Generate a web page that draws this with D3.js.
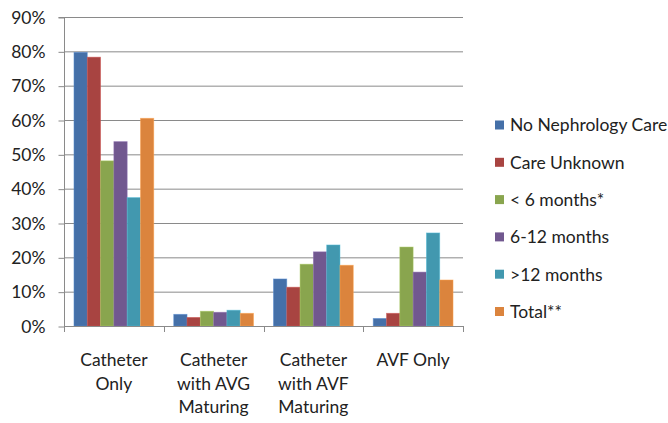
<!DOCTYPE html>
<html>
<head>
<meta charset="utf-8">
<script src="https://cdn.jsdelivr.net/npm/d3@7"></script>
<style>
  html, body { margin: 0; padding: 0; background: #ffffff; }
  svg { display: block; }
  text { font-family: Lato, "Open Sans", sans-serif; fill: #222; }
</style>
</head>
<body>
<svg id="chart" width="668" height="423"></svg>
<script>
// Access type by time under nephrology care (share of patients)
const categories = [
  ["Catheter", "Only"],
  ["Catheter", "with AVG", "Maturing"],
  ["Catheter", "with AVF", "Maturing"],
  ["AVF Only"]
];
const seriesNames = ["No Nephrology Care", "Care Unknown", "< 6 months*", "6-12 months", ">12 months", "Total**"];
const seriesColors = ["#4570a8", "#a84441", "#89a54e", "#71588f", "#4298af", "#db843d"];
const values = [
  [79.7, 3.4, 13.7, 2.2],   // No Nephrology Care
  [78.3, 2.5, 11.3, 3.7],   // Care Unknown
  [48.1, 4.3, 18.0, 23.0],  // < 6 months*
  [53.7, 4.0, 21.6, 15.7],  // 6-12 months
  [37.4, 4.6, 23.6, 27.1],  // >12 months
  [60.5, 3.7, 17.7, 13.4]   // Total**
];
const yTicks = [0, 10, 20, 30, 40, 50, 60, 70, 80, 90];

const FONT_SIZE = 17.5;
const svg = d3.select("#chart");
const plot = { left: 64, right: 463, top: 17, bottom: 326 };

const x0 = d3.scaleBand()
  .domain(d3.range(categories.length))
  .range([plot.left, plot.right])
  .paddingInner(0.2)
  .paddingOuter(0.1);
const xCat = d3.scaleBand()
  .domain(d3.range(categories.length))
  .range([plot.left, plot.right]);
const x1 = d3.scaleBand()
  .domain(d3.range(seriesNames.length))
  .range([0, x0.bandwidth()]);
const y = d3.scaleLinear().domain([0, 90]).range([plot.bottom, plot.top]);

// horizontal gridlines
svg.append("g")
  .selectAll("line")
  .data(yTicks.filter(d => d > 0))
  .join("line")
  .attr("x1", plot.left).attr("x2", plot.right)
  .attr("y1", d => y(d) + 0.5).attr("y2", d => y(d) + 0.5)
  .attr("stroke", "#8a8a8a").attr("stroke-width", 1);

// y axis
const yAxis = d3.axisLeft(y)
  .tickValues(yTicks)
  .tickFormat(d => d + "%")
  .tickSize(6)
  .tickPadding(13);
const gy = svg.append("g")
  .attr("transform", `translate(${plot.left + 0.5},0)`)
  .call(yAxis);
gy.select(".domain").attr("stroke", "#8a8a8a").attr("d", `M-6,${plot.top + 0.5}H0V${plot.bottom + 0.5}`);
gy.selectAll(".tick line").attr("stroke", "#8a8a8a").attr("transform", "translate(0,0.5)");
gy.selectAll(".tick text").attr("font-size", FONT_SIZE).attr("fill", "#222").attr("dy", "0.36em")
  .style("font-family", "Lato, 'Open Sans', sans-serif");

// bars
const groups = svg.append("g")
  .selectAll("g")
  .data(values)
  .join("g")
  .attr("fill", (d, i) => seriesColors[i]);
groups.selectAll("rect")
  .data((d, si) => d.map((v, ci) => ({ v, ci, si })))
  .join("rect")
  .attr("x", d => x0(d.ci) + x1(d.si))
  .attr("y", d => y(d.v))
  .attr("width", x1.bandwidth())
  .attr("height", d => y(0) - y(d.v))
  .attr("stroke", d => d3.color(seriesColors[d.si]).brighter(0.6))
  .attr("stroke-opacity", 0.6)
  .attr("stroke-width", 0.8);

// x axis line and category ticks
const gx = svg.append("g");
gx.append("line")
  .attr("x1", plot.left).attr("x2", plot.right)
  .attr("y1", plot.bottom + 0.5).attr("y2", plot.bottom + 0.5)
  .attr("stroke", "#8a8a8a");
const boundaries = d3.range(categories.length + 1).map(i => i < categories.length ? xCat(i) : plot.right);
gx.selectAll("line.tick")
  .data(boundaries)
  .join("line")
  .attr("class", "tick")
  .attr("x1", d => Math.round(d) + 0.5).attr("x2", d => Math.round(d) + 0.5)
  .attr("y1", plot.bottom).attr("y2", plot.bottom + 6)
  .attr("stroke", "#8a8a8a");

// category labels
const catLabels = svg.append("g")
  .selectAll("text")
  .data(categories)
  .join("text")
  .attr("text-anchor", "middle")
  .attr("font-size", FONT_SIZE)
  .attr("x", (d, i) => xCat(i) + xCat.bandwidth() / 2)
  .attr("y", 366);
catLabels.selectAll("tspan")
  .data(d => d)
  .join("tspan")
  .attr("x", function () { return d3.select(this.parentNode).attr("x"); })
  .attr("dy", (d, i) => i === 0 ? 0 : 23.5)
  .text(d => d);

// legend
const legend = svg.append("g")
  .selectAll("g")
  .data(seriesNames)
  .join("g")
  .attr("transform", (d, i) => `translate(495,${125 + i * 37.3})`);
legend.append("rect")
  .attr("x", 0).attr("y", -4.5)
  .attr("width", 9).attr("height", 9)
  .attr("fill", (d, i) => seriesColors[i]);
legend.append("text")
  .attr("x", 15).attr("y", 0).attr("dy", "0.36em")
  .attr("font-size", FONT_SIZE)
  .text(d => d);
</script>
</body>
</html>
